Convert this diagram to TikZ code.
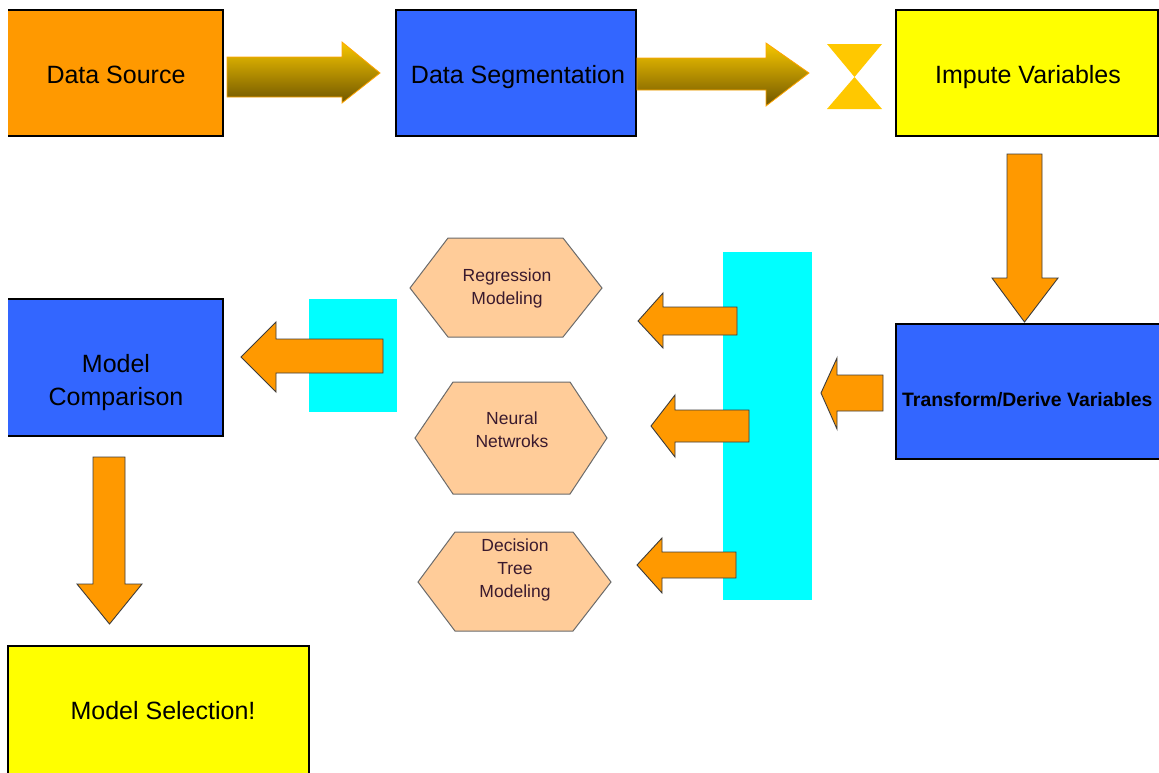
\documentclass[tikz,border=0pt]{standalone}
\usepackage{fontspec}
\setmainfont{Liberation Sans}
\definecolor{cOrange}{HTML}{FF9900}
\definecolor{cBlue}{HTML}{3366FF}
\definecolor{cYellow}{HTML}{FFFF00}
\definecolor{cCyan}{HTML}{00FFFF}
\definecolor{cPeach}{HTML}{FFCC99}
\definecolor{cHexLine}{HTML}{6B6B6B}
\definecolor{cHexText}{HTML}{3A1A2E}
\definecolor{cGoldTop}{HTML}{F7C700}
\definecolor{cGoldBot}{HTML}{705600}
\definecolor{cGoldLine}{HTML}{FFA500}
\definecolor{cHour}{HTML}{FFC800}
\definecolor{cArrLine}{HTML}{3C3C3C}
\tikzset{
  box/.style={rectangle, inner sep=0pt, outer sep=0pt, anchor=north west},
  boxline/.style={draw=black, line width=2pt},
  bigtxt/.style={font=\fontsize{25}{33}\selectfont, text=black, align=center, inner sep=0pt},
  hextxt/.style={font=\fontsize{17.5}{23}\selectfont, text=cHexText, align=center, inner sep=0pt},
  hexshape/.style={fill=cPeach, draw=cHexLine, line width=1pt, line join=miter},
  barrow/.style={fill=cOrange, draw=cArrLine, line width=0.9pt, line join=miter},
  garrow/.style={top color=cGoldTop, bottom color=cGoldBot, draw=cGoldLine, line width=0.8pt},
  bar/.style={fill=cCyan, draw=none},
}
\begin{document}
\begin{tikzpicture}[x=1pt, y=-1pt]
\useasboundingbox (0,0) rectangle (1159,772);
\clip (0,0) rectangle (1159,772);
\fill[white] (0,0) rectangle (1159,772);

% ---------- top row boxes ----------
\node[box, fill=cOrange, minimum width=215, minimum height=126] (ds) at (8,10) {};
\draw[boxline] (ds.north west) -- (ds.north east) -- (ds.south east) -- (ds.south west);
\node[bigtxt, anchor=base] (dst) at (116,83) {Data Source};

\node[box, fill=cBlue, boxline, minimum width=240, minimum height=126] (seg) at (396,10) {};
\node[bigtxt, anchor=base] (segt) at (518,83) {Data Segmentation};

\node[box, fill=cYellow, boxline, minimum width=262, minimum height=126] (imp) at (896,10) {};
\node[bigtxt, anchor=base] (impt) at (1028,83) {Impute Variables};

% gradient arrows
\path[garrow] (227,57) -- (342,57) -- (342,42) -- (380,73) -- (342,103) -- (342,97) -- (227,97) -- cycle;
\path[garrow] (637,58) -- (766,58) -- (766,43) -- (809,73) -- (766,106) -- (766,90) -- (637,90) -- cycle;
% hourglass
\fill[cHour] (827,44) -- (882,44) -- (854.5,77) -- cycle;
\fill[cHour] (854.5,77) -- (827,109) -- (882,109) -- cycle;

% ---------- down arrow to Transform ----------
\path[barrow] (1007,154) -- (1042,154) -- (1042,278) -- (1058,278) -- (1024.5,322) -- (992,278) -- (1007,278) -- cycle;

% ---------- Transform/Derive ----------
\node[box, fill=cBlue, minimum width=275, minimum height=135] (tdv) at (896,324) {};
\draw[boxline] (tdv.north east) -- (tdv.north west) -- (tdv.south west) -- (tdv.south east);
\node[anchor=base west, inner sep=0pt, font=\fontsize{19.4}{24}\selectfont\bfseries] (tdvt) at (902,406) {Transform/Derive Variables};

% arrow into cyan bar
\path[barrow] (883,375) -- (837,375) -- (837,358) -- (821,393) -- (837,429) -- (837,411) -- (883,411) -- cycle;

% big cyan bar
\node[box, bar, minimum width=89, minimum height=348] (cbar) at (723,252) {};

% arrows out of bar
\path[barrow] (737,307) -- (663,307) -- (663,293) -- (638,321) -- (663,348) -- (663,335) -- (737,335) -- cycle;
\path[barrow] (749,410) -- (675,410) -- (675,395) -- (651,426) -- (675,457) -- (675,442) -- (749,442) -- cycle;
\path[barrow] (736,552) -- (662,552) -- (662,538) -- (637,565) -- (662,593) -- (662,578) -- (736,578) -- cycle;

% hexagons
\path[hexshape] (448,238) -- (563,238) -- (602,288) -- (563,337) -- (448,337) -- (410,288) -- cycle;
\node[hextxt] (reg) at (507,288) {Regression\\Modeling};
\path[hexshape] (453,382) -- (570,382) -- (607,438) -- (570,494) -- (453,494) -- (415,438) -- cycle;
\node[hextxt] (nn) at (512,429.5) {Neural\\Netwroks};
\path[hexshape] (455,532) -- (573,532) -- (611,582) -- (573,631) -- (455,631) -- (418,582) -- cycle;
\node[hextxt] (dt) at (515,569.5) {Decision\\Tree\\Modeling};

% small cyan bar and arrow to Model Comparison
\node[box, bar, minimum width=88, minimum height=113] (sbar) at (309,299) {};
\path[barrow] (383,339) -- (276,339) -- (276,322) -- (241,357) -- (276,392) -- (276,373) -- (383,373) -- cycle;

% ---------- Model Comparison ----------
\node[box, fill=cBlue, minimum width=215, minimum height=137] (mc) at (8,299) {};
\draw[boxline] (mc.north west) -- (mc.north east) -- (mc.south east) -- (mc.south west);
\node[bigtxt] (mct) at (116,383) {Model\\Comparison};

% down arrow to Model Selection
\path[barrow] (93,457) -- (125,457) -- (125,584) -- (142,584) -- (109.5,624) -- (77,584) -- (93,584) -- cycle;

% ---------- Model Selection ----------
\node[box, fill=cYellow, minimum width=301, minimum height=140] (ms) at (8,646) {};
\draw[boxline] (ms.south west) -- (ms.north west) -- (ms.north east) -- (ms.south east);
\node[bigtxt, anchor=base] (mst) at (163,719) {Model Selection!};
\end{tikzpicture}
\end{document}
